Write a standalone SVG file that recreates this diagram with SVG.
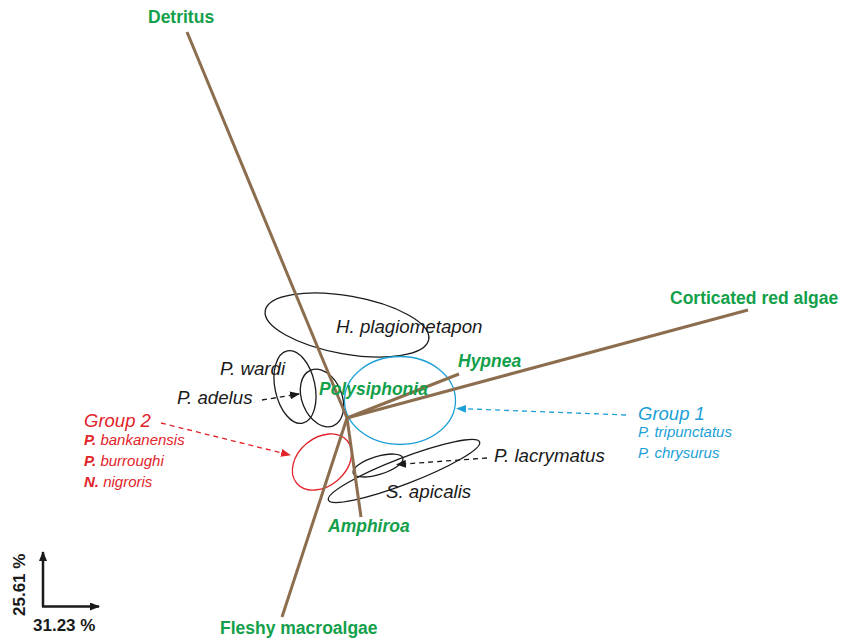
<svg xmlns="http://www.w3.org/2000/svg" width="853" height="638" viewBox="0 0 853 638">
<style>
.vec{stroke:#8c6d4e;stroke-width:3;fill:none;stroke-linecap:butt}
.lab{font-family:"Liberation Sans",Arial,sans-serif;font-weight:bold;font-size:17.5px;fill:#12a04a}
.it{font-style:italic}
.sp{font-family:"Liberation Sans",Arial,sans-serif;font-style:italic;font-size:18.7px;fill:#1a1a1a}
.ell{fill:none;stroke:#1a1a1a;stroke-width:1.3}
.grp{font-family:"Liberation Sans",Arial,sans-serif;font-style:italic}
.ax{font-family:"Liberation Sans",Arial,sans-serif;font-weight:bold;font-size:17px;fill:#1a1a1a}
</style>
<defs>
<marker id="ak" markerWidth="10" markerHeight="8" refX="9" refY="4" orient="auto" markerUnits="userSpaceOnUse"><path d="M0,0 L10,4 L0,8 Z" fill="#1a1a1a"/></marker>
<marker id="ar" markerWidth="10" markerHeight="8" refX="9" refY="4" orient="auto" markerUnits="userSpaceOnUse"><path d="M0,0 L10,4 L0,8 Z" fill="#e2232a"/></marker>
<marker id="ab" markerWidth="10" markerHeight="8" refX="9" refY="4" orient="auto" markerUnits="userSpaceOnUse"><path d="M0,0 L10,4 L0,8 Z" fill="#1b9fd6"/></marker>
</defs>

<g id="ellipses">
<g id="e-hplag"><ellipse class="ell" cx="347" cy="325" rx="83" ry="29" transform="rotate(10 347 325)"/></g>
<g id="e-pwardi"><ellipse class="ell" cx="295" cy="387" rx="20" ry="37" transform="rotate(-12 295 387)"/></g>
<g id="e-padelus"><ellipse class="ell" cx="322" cy="398" rx="20" ry="30" transform="rotate(-22 322 398)"/></g>
<g id="e-group1"><ellipse cx="400" cy="400.5" rx="55.5" ry="44" fill="none" stroke="#1b9fd6" stroke-width="1.3"/></g>
<g id="e-group2"><ellipse cx="322" cy="462" rx="33" ry="24" fill="none" stroke="#e2232a" stroke-width="1.3" transform="rotate(-40 322 462)"/></g>
<g id="e-sapicalis"><ellipse class="ell" cx="404" cy="471" rx="81" ry="13" transform="rotate(-21 404 471)"/></g>
<g id="e-placry"><ellipse class="ell" cx="378" cy="465.5" rx="26" ry="9" transform="rotate(-17 378 465.5)"/></g>
</g>

<g id="connectors">
<line class="vec" x1="347" y1="418" x2="187" y2="32"/>
<line class="vec" x1="347" y1="418" x2="282" y2="617"/>
<line class="vec" x1="347" y1="418" x2="748" y2="310"/>
<line class="vec" x1="347" y1="418" x2="459" y2="374"/>
<line class="vec" x1="347" y1="418" x2="361" y2="517"/>
<line x1="262" y1="400" x2="299" y2="394" stroke="#1a1a1a" stroke-width="1.3" stroke-dasharray="5,4" marker-end="url(#ak)"/>
<line x1="161" y1="423" x2="290" y2="455" stroke="#e2232a" stroke-width="1.3" stroke-dasharray="5,4" marker-end="url(#ar)"/>
<line x1="626" y1="415" x2="457" y2="408.5" stroke="#1b9fd6" stroke-width="1.3" stroke-dasharray="5,4" marker-end="url(#ab)"/>
<line x1="487" y1="458" x2="397" y2="464.5" stroke="#1a1a1a" stroke-width="1.3" stroke-dasharray="5,4" marker-end="url(#ak)"/>
</g>

<g id="vector-labels">
<g id="n-detritus"><text class="lab" x="148" y="23">Detritus</text></g>
<g id="n-corticated"><text class="lab" x="670" y="304">Corticated red algae</text></g>
<g id="n-fleshy"><text class="lab" x="220" y="634">Fleshy macroalgae</text></g>
<g id="n-hypnea"><text class="lab it" x="458" y="367">Hypnea</text></g>
<g id="n-polysiphonia"><text class="lab it" x="319" y="395">Polysiphonia</text></g>
<g id="n-amphiroa"><text class="lab it" x="328" y="532">Amphiroa</text></g>
</g>

<g id="species-labels">
<g id="n-hplag"><text class="sp" x="336" y="333">H. plagiometapon</text></g>
<g id="n-pwardi"><text class="sp" x="220" y="375">P. wardi</text></g>
<g id="n-padelus"><text class="sp" x="177" y="404">P. adelus</text></g>
<g id="n-placry"><text class="sp" x="494" y="462">P. lacrymatus</text></g>
<g id="n-sapicalis"><text class="sp" x="386" y="498">S. apicalis</text></g>
</g>

<g id="n-group2" class="grp" fill="#e2232a">
<text x="84" y="427" font-size="18.5">Group 2</text>
<text x="84" y="445" font-size="15"><tspan font-weight="bold">P.</tspan> bankanensis</text>
<text x="84" y="466" font-size="15"><tspan font-weight="bold">P.</tspan> burroughi</text>
<text x="84" y="487" font-size="15"><tspan font-weight="bold">N.</tspan> nigroris</text>
</g>

<g id="n-group1" class="grp" fill="#1b9fd6">
<text x="638" y="420" font-size="18.5">Group 1</text>
<text x="638" y="437" font-size="15">P. tripunctatus</text>
<text x="638" y="458" font-size="15">P. chrysurus</text>
</g>

<g id="axes">
<line x1="43" y1="606.5" x2="43" y2="552" stroke="#1a1a1a" stroke-width="2.5" marker-end="url(#ak)"/>
<line x1="42" y1="606.5" x2="99" y2="606.5" stroke="#1a1a1a" stroke-width="2.5" marker-end="url(#ak)"/>
<text class="ax" transform="translate(25 616) rotate(-90)" x="0" y="0">25.61 %</text>
<text class="ax" x="33" y="631">31.23 %</text>
</g>
</svg>
